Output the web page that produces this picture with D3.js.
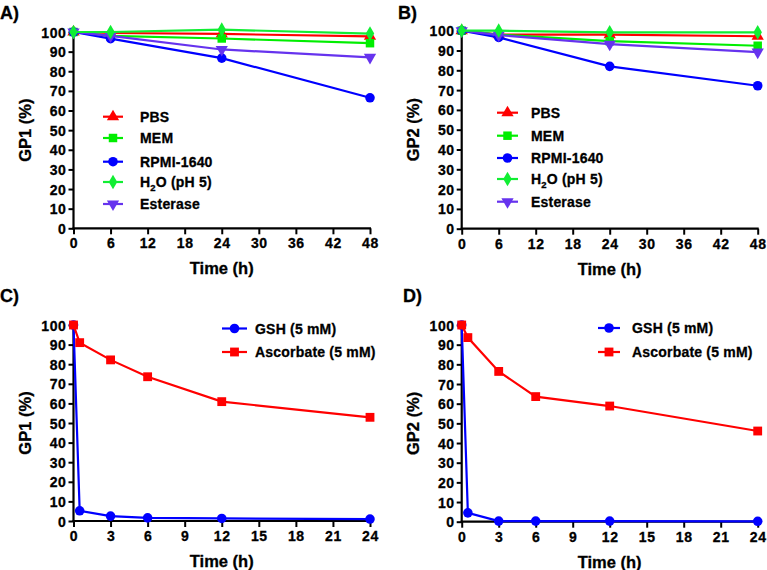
<!DOCTYPE html>
<html><head><meta charset="utf-8">
<script src="https://cdn.jsdelivr.net/npm/d3@7"></script>
<style>
html,body{margin:0;padding:0;background:#fff;}
svg{display:block;font-family:"Liberation Sans",Arial,sans-serif;font-weight:bold;}
text{stroke:#000;stroke-width:0.3px;}
</style></head>
<body>
<svg id="c" width="767" height="570"></svg>
<script>
// ---- data ----
const timesAB = [0, 6, 24, 48];
const xTicksAB = [0, 6, 12, 18, 24, 30, 36, 42, 48];
const timesCD = [0, 0.5, 3, 6, 12, 24];
const xTicksCD = [0, 3, 6, 9, 12, 15, 18, 21, 24];
const yTicks = [0, 10, 20, 30, 40, 50, 60, 70, 80, 90, 100];

const seriesNamesAB = ["PBS", "MEM", "RPMI-1640", "H2O (pH 5)", "Esterase"];
const A_PBS = [100, 99.5, 99, 97.8];
const A_MEM = [100, 98, 96.7, 94.3];
const A_RPMI = [100, 96.6, 86.7, 66.5];
const A_H2O = [100, 100, 101.2, 99.2];
const A_EST = [100, 98, 91.1, 87.1];

const B_PBS = [100, 98, 98, 97.2];
const B_MEM = [100, 98, 94.7, 92.4];
const B_RPMI = [100, 96.6, 82, 72.2];
const B_H2O = [100, 100, 99.2, 99.2];
const B_EST = [100, 97.8, 93.2, 89.2];

const seriesNamesCD = ["GSH (5 mM)", "Ascorbate (5 mM)"];
const C_GSH = [100, 5.2, 2.5, 1.6, 1.3, 1.0];
const C_ASC = [100, 91, 82.2, 73.6, 60.9, 52.9];
const D_GSH = [100, 4.5, 0.3, 0.3, 0.3, 0.2];
const D_ASC = [100, 93.6, 76.4, 63.6, 58.8, 46.1];

// ---- styles ----
const styAB = [
  {color: "#ff0000", sym: d3.symbolTriangle, size: 65, rot: 0},
  {color: "#00ee00", sym: d3.symbolSquare, size: 72, rot: 0},
  {color: "#0000ff", sym: d3.symbolCircle, size: 72, rot: 0},
  {color: "#11ee33", sym: d3.symbolDiamond, size: 62, rot: 0},
  {color: "#6633ee", sym: d3.symbolTriangle, size: 65, rot: 180}
];
const styCD = [
  {color: "#0000ff", sym: d3.symbolCircle, size: 72, rot: 0},
  {color: "#ff0000", sym: d3.symbolSquare, size: 78, rot: 0}
];

const svg = d3.select("#c");

function panel(cfg) {
  const g = svg.append("g");
  const x = d3.scaleLinear().domain(cfg.xDomain).range([cfg.x0, cfg.x1]);
  const y = d3.scaleLinear().domain([0, 100]).range([cfg.y0, cfg.y100]);

  // axes
  const ax = g.append("g").attr("transform", `translate(0,${cfg.y0})`)
    .call(d3.axisBottom(x).tickValues(cfg.xTicks).tickSize(6).tickPadding(3).tickFormat(d3.format("d")));
  const ay = g.append("g").attr("transform", `translate(${cfg.x0},0)`)
    .call(d3.axisLeft(y).tickValues(yTicks).tickSize(5).tickPadding(2).tickFormat(d3.format("d")));
  [ax, ay].forEach(a => {
    a.select(".domain").attr("stroke", "#000").attr("stroke-width", 2.2);
    a.selectAll(".tick line").attr("stroke", "#000").attr("stroke-width", 2);
    a.selectAll(".tick text").attr("fill", "#000").attr("font-size", 14)
      .attr("font-weight", "bold").attr("font-family", "Liberation Sans, Arial, sans-serif")
      .attr("letter-spacing", 0.6);
  });
  ax.select(".domain").attr("d", `M${cfg.x0 - 1},0H${cfg.x1 + 1}`);
  ay.select(".domain").attr("d", `M0,${cfg.y100}V${cfg.y0 + 1}`);
  ay.selectAll(".tick text").attr("dy", "0.36em");
  ax.selectAll(".tick text").attr("dy", "0.78em");

  // series
  const line = d3.line().x((d, i) => x(cfg.times[i])).y(d => y(d));
  cfg.order.forEach(k => {
    const s = cfg.series[k], st = cfg.styles[k];
    g.append("path").attr("d", line(s)).attr("fill", "none")
      .attr("stroke", st.color).attr("stroke-width", 2.2);
    g.selectAll(null).data(s).enter().append("path")
      .attr("d", d3.symbol().type(st.sym).size(st.size))
      .attr("transform", (d, i) => `translate(${x(cfg.times[i])},${y(d)}) rotate(${st.rot})`)
      .attr("fill", st.color);
  });

  // legend
  cfg.names.forEach((n, k) => {
    const st = cfg.styles[k], ly = cfg.legY[k];
    g.append("line").attr("x1", cfg.legX).attr("x2", cfg.legX + cfg.legW)
      .attr("y1", ly).attr("y2", ly).attr("stroke", st.color).attr("stroke-width", 2.2);
    g.append("path").attr("d", d3.symbol().type(st.sym).size(st.size))
      .attr("transform", `translate(${cfg.legX + cfg.legW / 2},${ly}) rotate(${st.rot})`)
      .attr("fill", st.color);
    const t = g.append("text").attr("x", cfg.legTX).attr("y", ly).attr("dy", "0.36em")
      .attr("font-size", 14).attr("letter-spacing", 0.2).attr("fill", "#000");
    if (n.startsWith("H2O")) {
      t.append("tspan").text("H");
      t.append("tspan").text("2").attr("font-size", 9.5).attr("dy", 4);
      t.append("tspan").text("O (pH 5)").attr("dy", -4);
    } else t.text(n);
  });

  // titles
  g.append("text").attr("x", (cfg.x0 + cfg.x1) / 2).attr("y", cfg.y0 + 46)
    .attr("text-anchor", "middle").attr("font-size", 16.5).text("Time (h)");
  g.append("text").attr("transform", `translate(${cfg.x0 - 43},${(cfg.y0 + cfg.y100) / 2}) rotate(-90)`)
    .attr("text-anchor", "middle").attr("font-size", 16.5).text(cfg.yTitle);
  g.append("text").attr("x", cfg.lx).attr("y", cfg.ly).attr("font-size", 18).text(cfg.label);
}

const abSeriesA = [A_PBS, A_MEM, A_RPMI, A_H2O, A_EST];
const abSeriesB = [B_PBS, B_MEM, B_RPMI, B_H2O, B_EST];

panel({label: "A)", lx: 0, ly: 19, yTitle: "GP1 (%)",
  x0: 73.5, x1: 370, y0: 228.3, y100: 32, xDomain: [0, 48], xTicks: xTicksAB,
  times: timesAB, series: abSeriesA, styles: styAB, names: seriesNamesAB, order: [0, 1, 2, 4, 3],
  legX: 103, legW: 20, legTX: 140, legY: [116.7, 138, 161.7, 182, 204]});
panel({label: "B)", lx: 398, ly: 19, yTitle: "GP2 (%)",
  x0: 461.7, x1: 757.7, y0: 228.7, y100: 30.7, xDomain: [0, 48], xTicks: xTicksAB,
  times: timesAB, series: abSeriesB, styles: styAB, names: seriesNamesAB, order: [0, 1, 2, 4, 3],
  legX: 497, legW: 21, legTX: 531, legY: [112.7, 135.7, 158, 179, 201.7]});
panel({label: "C)", lx: 0, ly: 302, yTitle: "GP1 (%)",
  x0: 73.5, x1: 370, y0: 521, y100: 325, xDomain: [0, 24], xTicks: xTicksCD,
  times: timesCD, series: [C_GSH, C_ASC], styles: styCD, names: seriesNamesCD, order: [0, 1],
  legX: 222, legW: 25, legTX: 255, legY: [328.5, 352]});
panel({label: "D)", lx: 403, ly: 302, yTitle: "GP2 (%)",
  x0: 461.7, x1: 757.7, y0: 521.7, y100: 325, xDomain: [0, 24], xTicks: xTicksCD,
  times: timesCD, series: [D_GSH, D_ASC], styles: styCD, names: seriesNamesCD, order: [0, 1],
  legX: 598, legW: 22, legTX: 632, legY: [328, 352]});
</script>
</body></html>
